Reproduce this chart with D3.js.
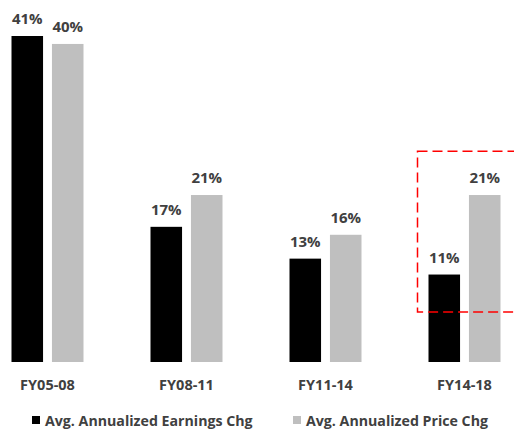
<!DOCTYPE html>
<html lang="en">
<head>
  <meta charset="UTF-8">
  <title>Earnings vs Price</title>
  <style>
    body { margin: 0; background: #fff; }
    text { font-family: "Open Sans", "Liberation Sans", sans-serif; font-weight: bold; fill: #404040; }
  </style>
</head>
<body>
  <svg id="container" width="514" height="438"></svg>
  <script src="https://cdn.jsdelivr.net/npm/d3@7"></script>
  <script>
    const periods = ["FY05-08", "FY08-11", "FY11-14", "FY14-18"]
    const earningsChg = [41, 17, 13, 11]
    const priceChg = [40, 21, 16, 21]
    const seriesNames = ["Avg. Annualized Earnings Chg", "Avg. Annualized Price Chg"]
    const colors = ["#000000", "#bfbfbf"]

    let svg = d3.select("#container")

    let x = d3.scaleBand().domain(periods).range([-22, 534]).paddingInner(0).paddingOuter(0)
    let inner = d3.scaleBand().domain([0, 1]).range([x.bandwidth()/2 - 36, x.bandwidth()/2 + 36]).paddingInner(0.22)
    let y = d3.scaleLinear().domain([0, 41]).range([362, 36])

    let data = periods.map((p, i) => ({ period: p, values: [earningsChg[i], priceChg[i]] }))

    let groups = svg.append("g").selectAll("g")
      .data(data).enter().append("g")
      .attr("transform", d => `translate(${x(d.period)},0)`)

    groups.selectAll("rect")
      .data(d => d.values).enter().append("rect")
      .attr("x", (d, i) => inner(i))
      .attr("width", inner.bandwidth())
      .attr("y", d => y(d))
      .attr("height", d => y(0) - y(d))
      .attr("fill", (d, i) => colors[i])

    groups.selectAll("text.val")
      .data(d => d.values).enter().append("text")
      .attr("class", "val")
      .attr("x", (d, i) => inner(i) + inner.bandwidth()/2)
      .attr("y", d => y(d) - 12)
      .attr("text-anchor", "middle")
      .attr("font-size", 15)
      .text(d => d + "%")

    // category labels
    svg.append("g").selectAll("text")
      .data(periods).enter().append("text")
      .attr("x", d => x(d) + x.bandwidth()/2)
      .attr("y", 390)
      .attr("text-anchor", "middle")
      .attr("font-size", 14.5)
      .text(d => d)

    // highlight box around last period
    let last = periods[periods.length - 1]
    svg.append("rect")
      .attr("x", x(last) + inner(0) - 11)
      .attr("y", y(26.5))
      .attr("width", 140)
      .attr("height", y(6.3) - y(26.5))
      .attr("fill", "none")
      .attr("stroke", "#ff0000")
      .attr("stroke-width", 1.5)
      .attr("stroke-dasharray", "10,5")

    // legend
    let legendX = [32, 293]
    let legend = svg.append("g").selectAll("g")
      .data(seriesNames).enter().append("g")
      .attr("transform", (d, i) => `translate(${legendX[i]},416)`)
    legend.append("rect").attr("width", 8).attr("height", 8).attr("fill", (d, i) => colors[i])
    legend.append("text").attr("x", 13).attr("y", 9.5).attr("font-size", 14.2).text(d => d)
  </script>
</body>
</html>
